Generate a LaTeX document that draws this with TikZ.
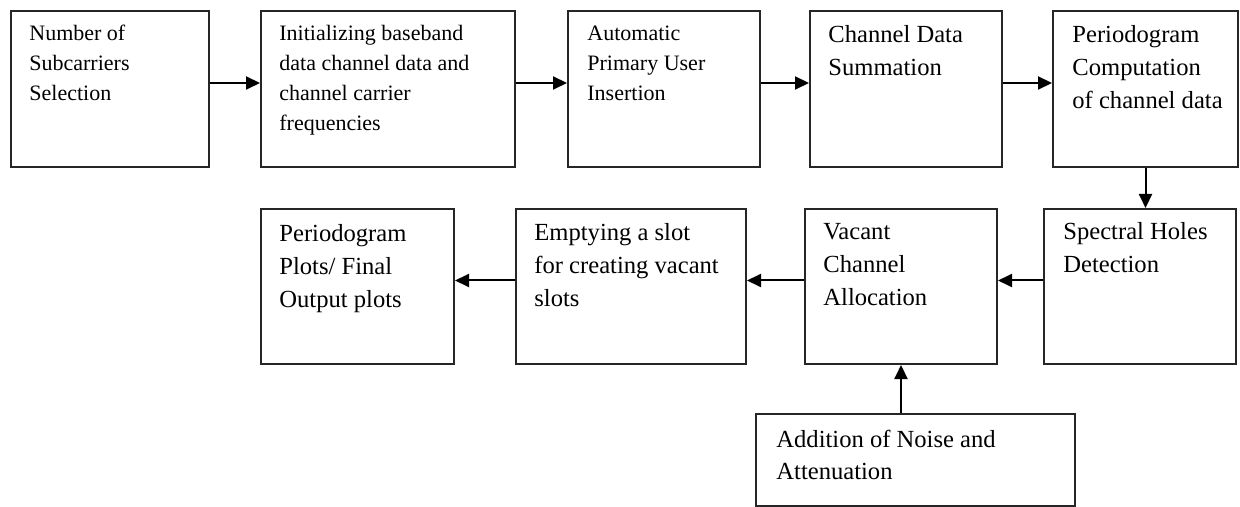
\documentclass[tikz,border=0pt]{standalone}
\usepackage{fontspec}
\setmainfont{Liberation Serif}
\usetikzlibrary{arrows.meta}
\newcommand\smallfs{\fontsize{11}{15}\selectfont}
\newcommand\largefs{\fontsize{12.3}{16.3}\selectfont}
\newcommand\lines[2]{\parbox[t]{200pt}{#1\raggedright #2}}
\begin{document}
\begin{tikzpicture}[x=0.5pt,y=-0.5pt,
  blk/.style={draw=black!85, line width=1pt, rectangle, anchor=north west, inner sep=0pt},
  lbl/.style={anchor=base west, inner sep=0pt, text=black},
  arr/.style={draw=black, line width=1pt, -{Triangle[length=7pt,width=6.5pt]}}]
\useasboundingbox (0,0) rectangle (1240,507);
% row 1
\node[blk, minimum width=99pt, minimum height=78pt] (b1) at (10,10) {};
\node[blk, minimum width=127pt, minimum height=78pt] (b2) at (260,10) {};
\node[blk, minimum width=96pt, minimum height=78pt] (b3) at (567,10) {};
\node[blk, minimum width=96pt, minimum height=78pt] (b4) at (809,10) {};
\node[blk, minimum width=92.5pt, minimum height=78pt] (b5) at (1052,10) {};
% row 2
\node[blk, minimum width=96pt, minimum height=77.5pt] (b6) at (1043,208) {};
\node[blk, minimum width=96pt, minimum height=77.5pt] (b7) at (804,208) {};
\node[blk, minimum width=115pt, minimum height=77.5pt] (b8) at (515,208) {};
\node[blk, minimum width=96.5pt, minimum height=77.5pt] (b9) at (260,208) {};
% bottom
\node[blk, minimum width=159.5pt, minimum height=46pt] (b10) at (755,413) {};
% labels
\node[lbl] (t1) at (29,41) {\lines{\smallfs}{Number of\\Subcarriers\\Selection}};
\node[lbl] (t2) at (279,41) {\lines{\smallfs}{Initializing baseband\\data channel data and\\channel carrier\\frequencies}};
\node[lbl] (t3) at (587,41) {\lines{\smallfs}{Automatic\\Primary User\\Insertion}};
\node[lbl] (t4) at (828,43) {\lines{\largefs}{Channel Data\\Summation}};
\node[lbl] (t5) at (1072,43) {\lines{\largefs}{Periodogram\\Computation\\of channel data}};
\node[lbl] (t6) at (1063,240) {\lines{\largefs}{Spectral Holes\\Detection}};
\node[lbl] (t7) at (823,240) {\lines{\largefs}{Vacant\\Channel\\Allocation}};
\node[lbl] (t8) at (534,241) {\lines{\largefs}{Emptying a slot\\for creating vacant\\slots}};
\node[lbl] (t9) at (279,242) {\lines{\largefs}{Periodogram\\Plots/ Final\\Output plots}};
\node[lbl] (t10) at (776,447) {\lines{\largefs}{Addition of Noise and\\Attenuation}};
% connectors
\draw[arr] ([yshift=3pt]b1.east) -- ([yshift=3pt]b2.west);
\draw[arr] ([yshift=3pt]b2.east) -- ([yshift=3pt]b3.west);
\draw[arr] ([yshift=3pt]b3.east) -- ([yshift=3pt]b4.west);
\draw[arr] ([yshift=3pt]b4.east) -- ([yshift=3pt]b5.west);
\draw[arr] (b5.south) -- (b5.south |- b6.north);
\draw[arr] ([yshift=3pt]b6.west) -- ([yshift=3pt]b7.east);
\draw[arr] ([yshift=3pt]b7.west) -- ([yshift=3pt]b8.east);
\draw[arr] ([yshift=3pt]b8.west) -- ([yshift=3pt]b9.east);
\draw[arr] (b10.north -| b7.south) -- (b7.south);
\end{tikzpicture}
\end{document}
